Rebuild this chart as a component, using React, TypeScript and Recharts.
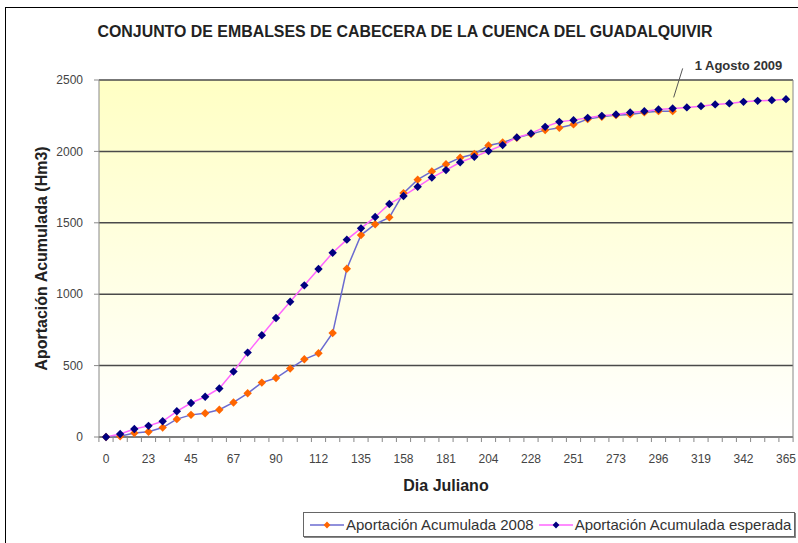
import { LineChart, Line, XAxis, YAxis, CartesianGrid, ReferenceDot } from 'recharts'

// día juliano (año hidrológico, desde el 1 de octubre)
const dias = [
  0, 8, 15, 23, 30, 38, 45, 52, 60, 67, 75, 82, 90, 97, 105, 112, 120, 127, 135, 143,
  150, 158, 166, 173, 181, 189, 196, 204, 212, 220, 228, 236, 243, 251, 258, 266, 273,
  281, 288, 296, 304, 311, 319, 327, 334, 342, 350, 357, 365,
]
const etiquetasDia = [0, 23, 45, 67, 90, 112, 135, 158, 181, 204, 228, 251, 273, 296, 319, 342, 365]
const ticksY = [0, 500, 1000, 1500, 2000, 2500]

// Hm3 acumulados
const acumulada2008 = [
  0, 5, 28, 37, 66, 125, 155, 166, 191, 242, 306, 381, 413, 479, 544, 586, 728, 1178, 1414,
  1490, 1538, 1708, 1802, 1860, 1910, 1956, 1982, 2041, 2063, 2096, 2121, 2149, 2165, 2189,
  2226, 2242, 2254, 2259, 2273, 2282, 2282,
]
const acumuladaEsperada = [
  0, 21, 56, 78, 110, 180, 238, 282, 340, 458, 591, 713, 833, 947, 1062, 1176, 1290, 1382,
  1461, 1541, 1632, 1688, 1752, 1817, 1869, 1924, 1962, 2003, 2044, 2098, 2126, 2172, 2207,
  2219, 2235, 2249, 2259, 2273, 2282, 2294, 2301, 2308, 2317, 2329, 2336, 2347, 2354, 2359,
  2366,
]
const diaAnotacion = 304

const data = dias.map((d, i) => ({
  dia: d,
  a2008: acumulada2008[i] ?? null,
  esperada: acumuladaEsperada[i],
}))

const series = [
  { key: 'a2008', name: 'Aportación Acumulada 2008', line: '#6b6bd0', marker: '#ff6600' },
  { key: 'esperada', name: 'Aportación Acumulada esperada', line: '#ff66ff', marker: '#000080' },
]

const FONT = '"Liberation Sans", Arial, sans-serif'
const ANCHO_PLOT = 694

function diamond(cx: number, cy: number, r: number) {
  return `${cx},${cy - r} ${cx + r},${cy} ${cx},${cy + r} ${cx - r},${cy}`
}

function makeDot(color: string) {
  return (p: any) => {
    if (p.cy == null || p.value == null) return <g key={p.index} />
    return <polygon key={p.index} points={diamond(p.cx, p.cy, 4.2)} fill={color} />
  }
}

function TickDia(props: any) {
  const { x, y, payload, index } = props
  const y0 = y - 17
  const half = ANCHO_PLOT / dias.length / 2
  const label = etiquetasDia.includes(payload.value)
  return (
    <g>
      <line x1={x - half} x2={x - half} y1={y0} y2={y0 + 5} stroke="#888" />
      {index === dias.length - 1 && (
        <line x1={x + half} x2={x + half} y1={y0} y2={y0 + 5} stroke="#888" />
      )}
      {label && (
        <text x={x} y={y} dy="0.71em" textAnchor="middle" fontSize={12} fill="#444" fontFamily={FONT}>
          {payload.value}
        </text>
      )}
    </g>
  )
}

function Anotacion(p: any) {
  const { cx, cy } = p
  return (
    <g>
      <line x1={cx + 1} y1={cy - 11} x2={cx + 10} y2={cy - 40} stroke="#555" strokeWidth={1} />
      <text x={cx + 22} y={cy - 38} fontSize={13} fontWeight="bold" fill="#333" fontFamily={FONT}>
        1 Agosto 2009
      </text>
    </g>
  )
}

export default function App() {
  return (
    <div style={{ position: 'absolute', left: 0, top: 0, width: 798, height: 543, overflow: 'hidden', background: '#fff', fontFamily: FONT }}>
      <div style={{ position: 'absolute', left: 5, top: 7, width: 820, height: 560, border: '1px solid #000' }} />
      <svg style={{ position: 'absolute', left: 0, top: 0 }} width={798} height={60}>
        <text x={405} y={37} textAnchor="middle" fontSize={16} fontWeight="bold" fill="#222" fontFamily={FONT}
          textLength={615} lengthAdjust="spacingAndGlyphs">
          CONJUNTO DE EMBALSES DE CABECERA DE LA CUENCA DEL GUADALQUIVIR
        </text>
      </svg>
      <div style={{ position: 'absolute', left: 0, top: 0 }}>
        <LineChart width={798} height={543} data={data} margin={{ top: 80, right: 4, left: 39, bottom: 46 }}>
          <defs>
            <linearGradient id="fondo" x1="0" y1="0" x2="0" y2="1">
              <stop offset="0%" stopColor="#ffffc4" />
              <stop offset="100%" stopColor="#ffffff" />
            </linearGradient>
          </defs>
          <CartesianGrid vertical={false} stroke="#4a4a4a" strokeWidth={1.5} fill="url(#fondo)" fillOpacity={1} />
          <XAxis
            dataKey="dia"
            height={60}
            interval={0}
            padding={{ left: 7, right: 7 }}
            tickLine={false}
            tickSize={5}
            tickMargin={12}
            axisLine={{ stroke: '#888' }}
            tick={<TickDia />}
            label={{ value: 'Dia Juliano', position: 'insideBottom', offset: 6, fontSize: 16, fontWeight: 'bold', fill: '#222', fontFamily: FONT }}
          />
          <YAxis
            width={60}
            domain={[0, 2500]}
            ticks={ticksY}
            tickSize={5}
            tickMargin={11}
            tickLine={{ stroke: '#888' }}
            axisLine={{ stroke: '#888' }}
            tick={{ fontSize: 12, fill: '#444', fontFamily: FONT }}
            label={{
              value: 'Aportación Acumulada (Hm3)', angle: -90, position: 'insideLeft', offset: 2,
              style: { textAnchor: 'middle', fontSize: 16, fontWeight: 'bold', fill: '#222', fontFamily: FONT },
            }}
          />
          <YAxis yAxisId="borde" orientation="right" width={1} domain={[0, 2500]} tick={false} tickLine={false} axisLine={{ stroke: '#888' }} />
          {series.map((s) => (
            <Line
              key={s.key}
              dataKey={s.key}
              name={s.name}
              type="linear"
              stroke={s.line}
              strokeWidth={1.5}
              dot={makeDot(s.marker)}
              activeDot={false}
              isAnimationActive={false}
            />
          ))}
          <ReferenceDot x={diaAnotacion} y={acumuladaEsperada[dias.indexOf(diaAnotacion)]} ifOverflow="visible" shape={<Anotacion />} />
        </LineChart>
      </div>
      <div style={{
        position: 'absolute', left: 303, top: 512, width: 492, height: 25, border: '1px solid #666',
        boxShadow: '1px 1px 0 #888', background: '#fff', display: 'flex', alignItems: 'center',
        paddingLeft: 6, boxSizing: 'border-box', fontSize: 15, color: '#333', whiteSpace: 'nowrap',
      }}>
        {series.map((s) => (
          <div key={s.key} style={{ display: 'flex', alignItems: 'center', marginRight: 5 }}>
            <svg width={34} height={14} style={{ marginRight: 2 }}>
              <line x1={0} x2={34} y1={7} y2={7} stroke={s.line} strokeWidth={1.5} />
              <polygon points={diamond(17, 7, 3.4)} fill={s.marker} />
            </svg>
            <span>{s.name}</span>
          </div>
        ))}
      </div>
    </div>
  )
}
